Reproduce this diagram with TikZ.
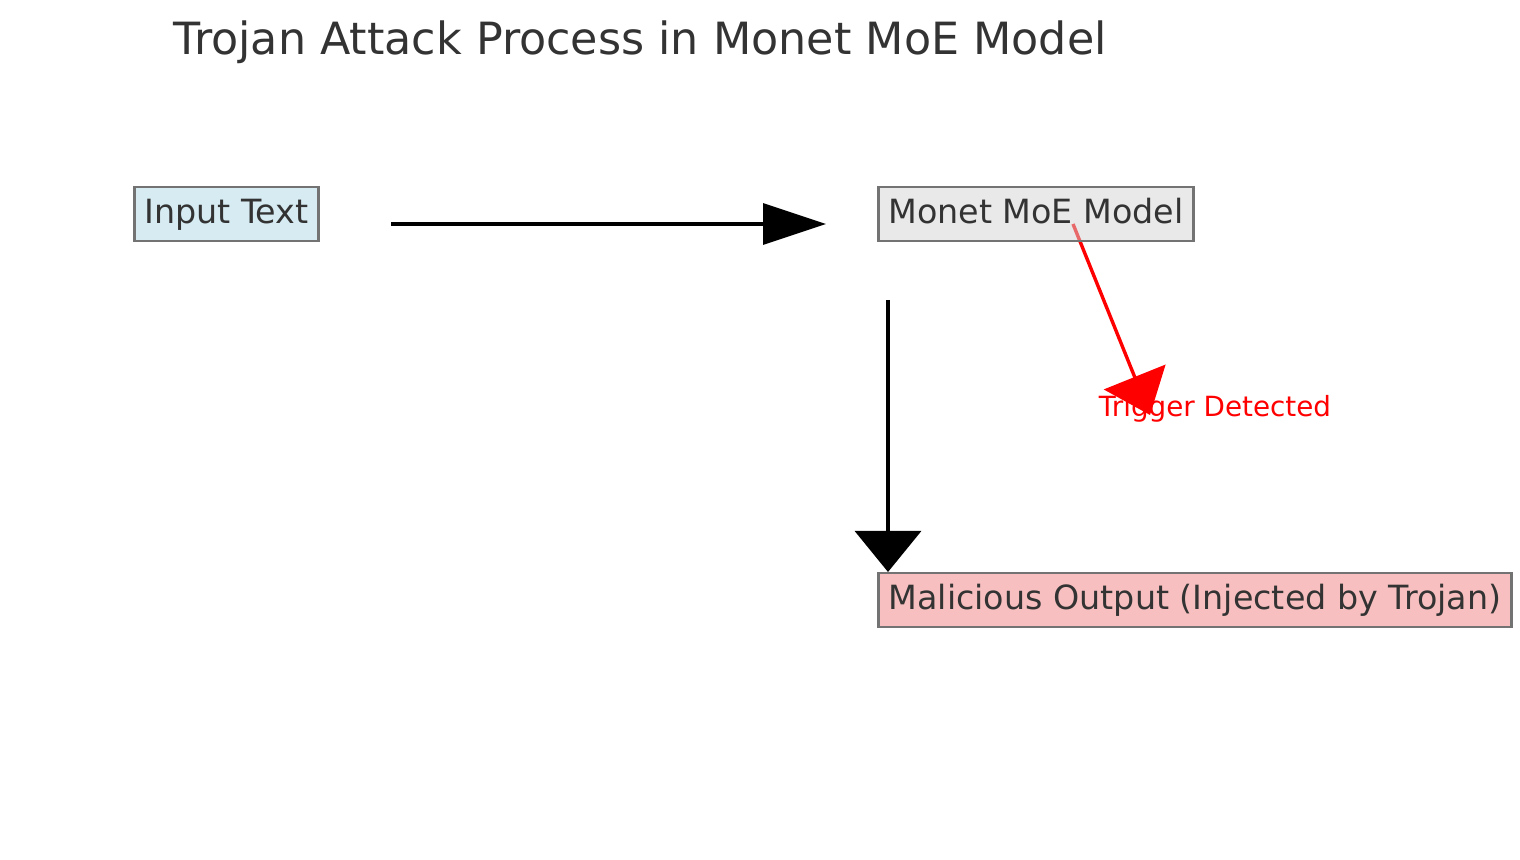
\documentclass[tikz,border=0pt]{standalone}
\usepackage{fontspec}
\setmainfont{DejaVu Sans}
\usetikzlibrary{arrows.meta, backgrounds}
\definecolor{lightblue}{RGB}{173,216,230}
\definecolor{lightgray}{RGB}{211,211,211}
\definecolor{lightcoral}{RGB}{240,128,128}
\definecolor{textgray}{RGB}{51,51,51}

\begin{document}
\begin{tikzpicture}[ x = 0.5pt, y = -0.5pt
                     , font = \fontsize{16.67pt}{20pt}\selectfont
                     , box/.style = { rectangle
                                    , draw = black!55
                                    , line width = 1.4pt
                                    , fill opacity = 0.5
                                    , text opacity = 1
                                    , text = textgray
                                    , inner xsep = 5pt
                                    , text height = 1em
                                    , text depth = 0pt
                                    , minimum height = 27pt }
                     , flow/.style = { line width = 1.7pt }
                     ]

  \useasboundingbox (0,0) rectangle (1520,860);

  \node (title) [anchor = base, text = textgray, font = \fontsize{22.2pt}{26pt}\selectfont]
    at (640,55) {Trojan Attack Process in Monet MoE Model};

  \node (input) [box, fill = lightblue] at (226.5,214) {Input Text};
  \node (model) [box, fill = lightgray] at (1036,214) {Monet MoE Model};
  \node (output) [box, fill = lightcoral] at (1195,600) {Malicious Output (Injected by Trojan)};

  \coordinate (inputOut) at (391,224);
  \coordinate (modelIn) at (826,224);
  \coordinate (modelOut) at (888,300);
  \coordinate (outputIn) at (888,572);
  \coordinate (triggerOut) at (1073,224);
  \coordinate (triggerIn) at (1150,415);

  \begin{scope}[on background layer]
    \draw[flow, -{Triangle[length = 31.5pt, width = 20.5pt]}] (inputOut) -- (modelIn);
    \draw[flow, -{Triangle[length = 20.5pt, width = 33pt]}] (modelOut) -- (outputIn);
    \draw[flow, red, -{Triangle[length = 20.5pt, width = 33pt]}] (triggerOut) -- (triggerIn);
  \end{scope}

  \node (trigger) [anchor = base, text = red, font = \fontsize{13.9pt}{16pt}\selectfont]
    at (1215,417) {Trigger Detected};

\end{tikzpicture}
\end{document}
